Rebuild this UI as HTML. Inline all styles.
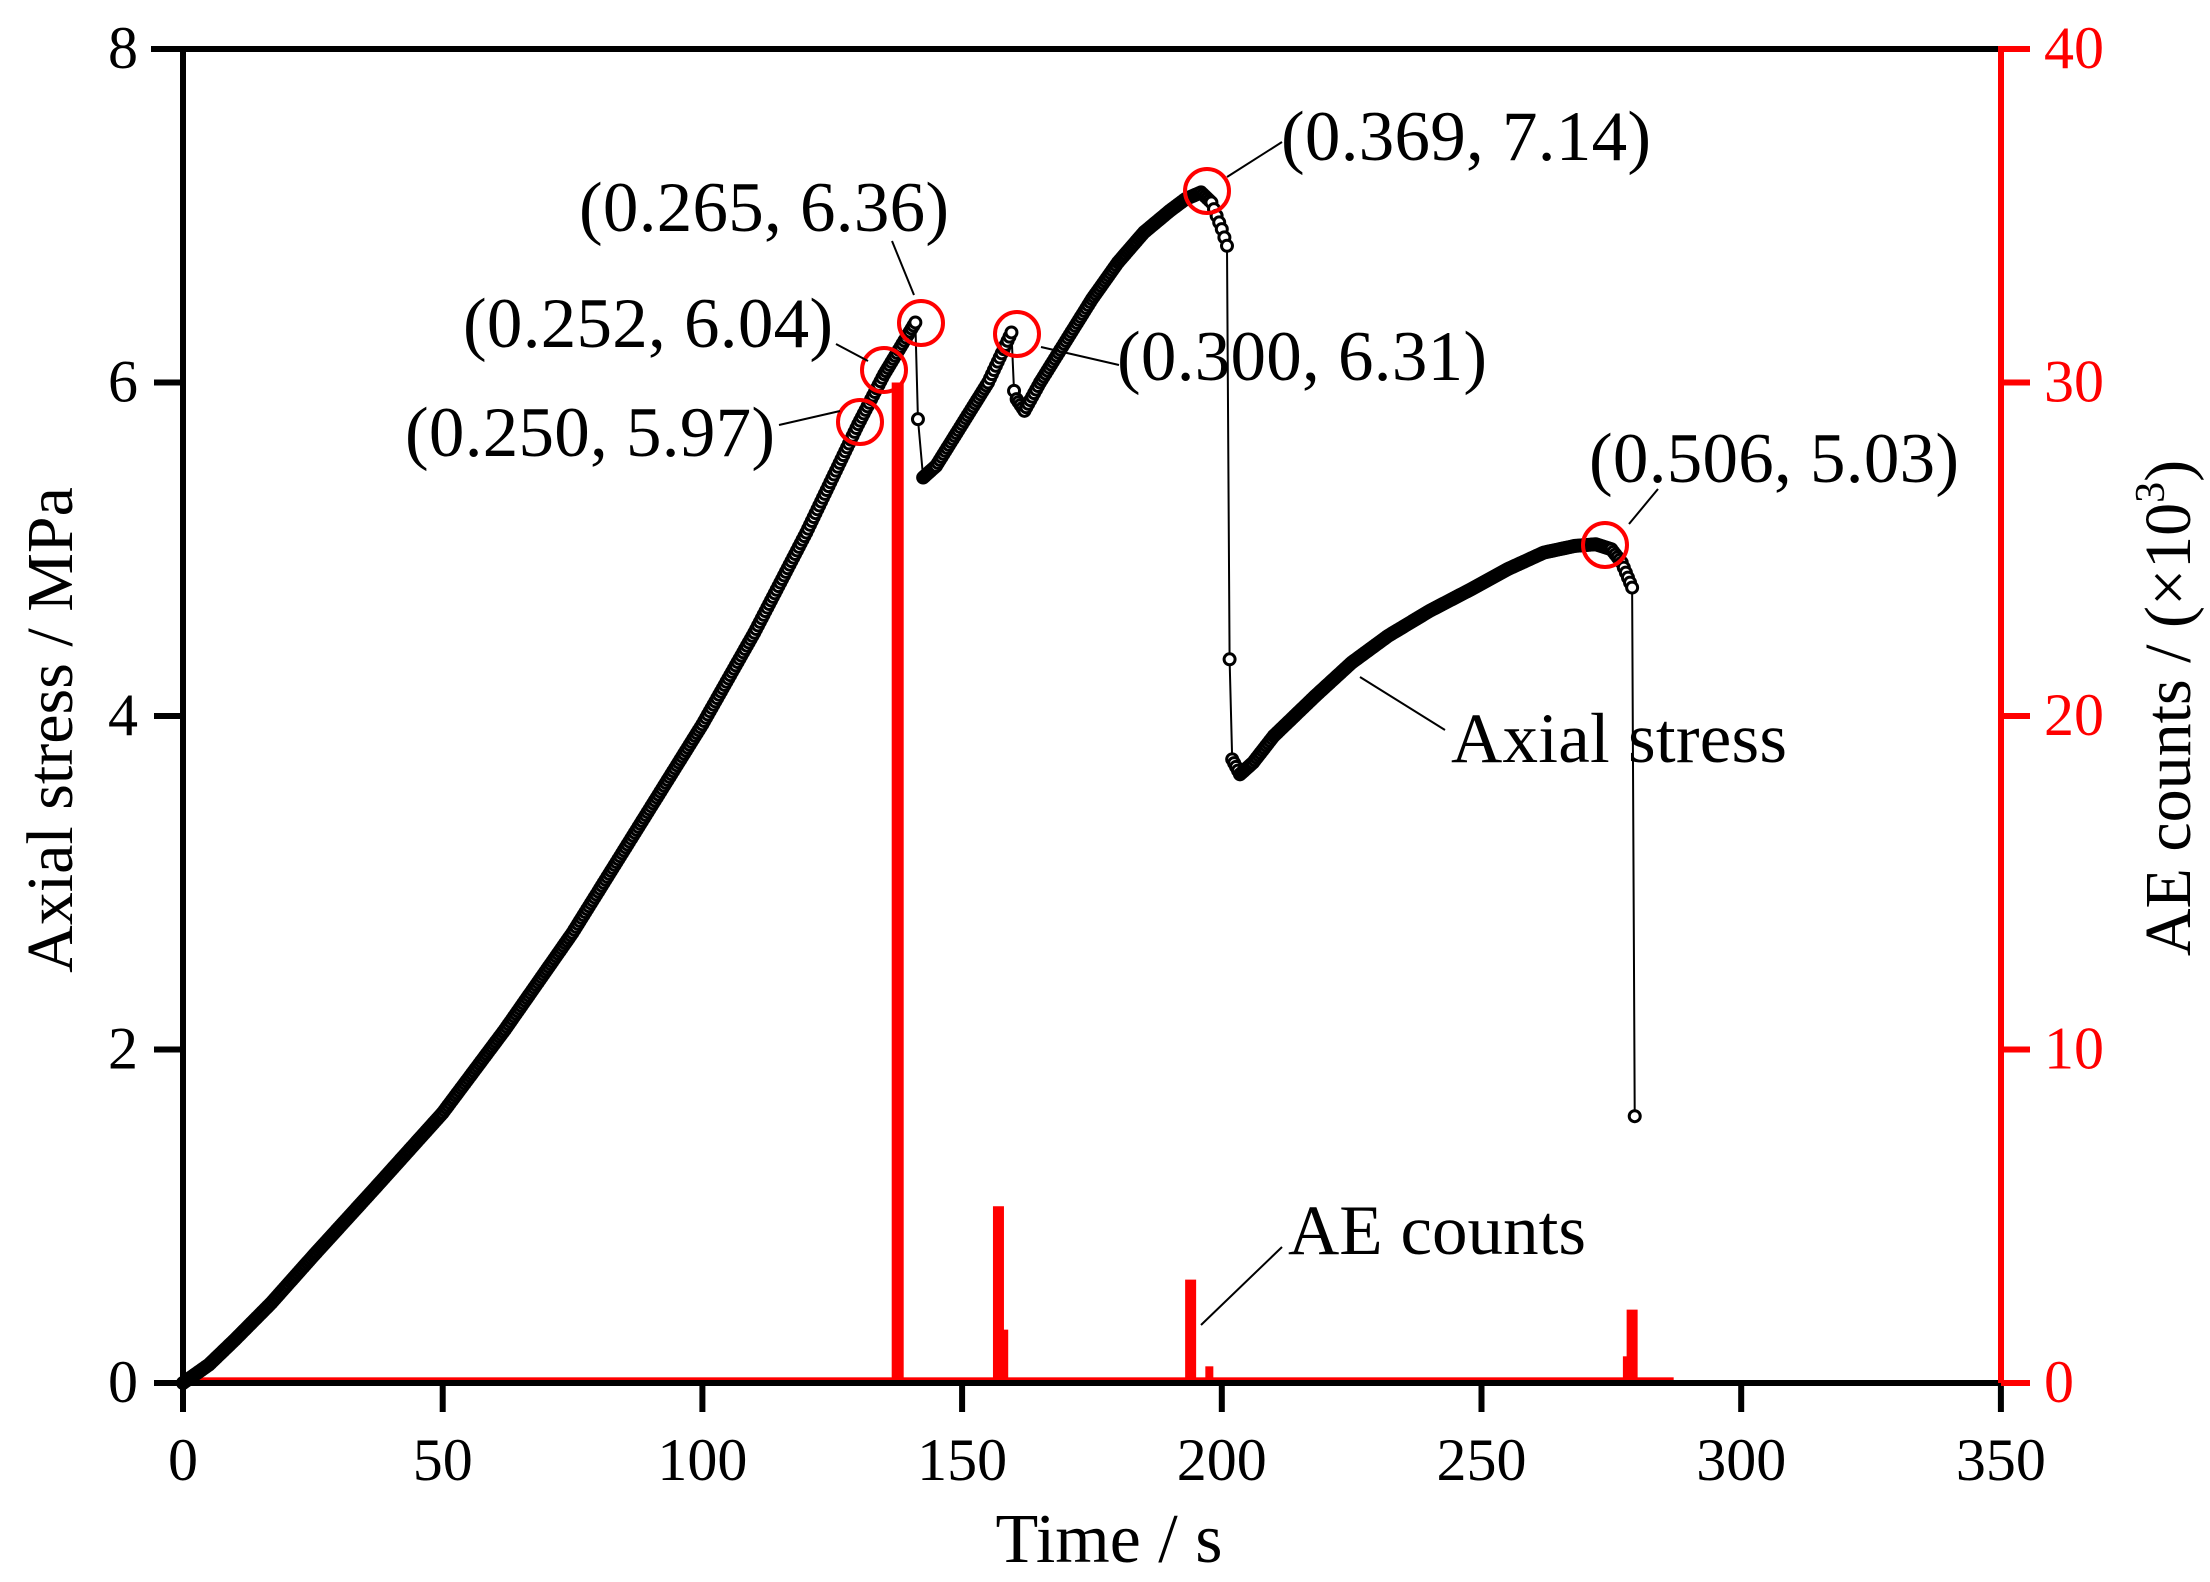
<!DOCTYPE html>
<html><head><meta charset="utf-8"><style>
html,body{margin:0;padding:0;background:#fff}
svg{display:block}
text{font-family:"Liberation Serif",serif}
</style></head><body>
<svg id="s" width="2210" height="1582" viewBox="0 0 2210 1582" xmlns="http://www.w3.org/2000/svg">
<g id="ae" fill="red"></g>
<g id="stress"></g>
<g fill="none" stroke="red" stroke-width="4">
<circle cx="860" cy="422" r="22"/><circle cx="884" cy="370" r="22"/><circle cx="921" cy="323" r="22"/>
<circle cx="1017" cy="334" r="22"/><circle cx="1207" cy="191" r="22"/><circle cx="1605" cy="545" r="22"/>
</g>
<g stroke="#000" stroke-width="2" fill="none">
<line x1="779" y1="425" x2="840" y2="411"/>
<line x1="836" y1="344" x2="868" y2="361"/>
<line x1="892" y1="241" x2="914" y2="295"/>
<line x1="1041" y1="347" x2="1119" y2="365"/>
<line x1="1227" y1="177" x2="1282" y2="142"/>
<line x1="1629" y1="524" x2="1658" y2="489"/>
<line x1="1360" y1="677" x2="1445" y2="730"/>
<line x1="1201" y1="1325" x2="1282" y2="1247"/>
</g>
<g font-size="71" fill="#000">
<text x="405" y="456" textLength="370">(0.250, 5.97)</text>
<text x="463" y="347" textLength="370">(0.252, 6.04)</text>
<text x="579" y="231" textLength="370">(0.265, 6.36)</text>
<text x="1117" y="380" textLength="370">(0.300, 6.31)</text>
<text x="1281" y="160" textLength="370">(0.369, 7.14)</text>
<text x="1589" y="482" textLength="370">(0.506, 5.03)</text>
<text x="1451" y="762" textLength="336">Axial stress</text>
<text x="1288" y="1254" textLength="298">AE counts</text>
</g>
<!-- axes -->
<g stroke="#000" stroke-width="6" stroke-linecap="square">
<line x1="154" y1="49" x2="2001" y2="49"/>
<line x1="183" y1="49" x2="183" y2="1383"/>
<line x1="183" y1="1383" x2="2001" y2="1383"/>
</g>
<g id="ticks"></g>
<g stroke="red" stroke-width="6"><line x1="2001" y1="46" x2="2001" y2="1383"/></g>
<text x="1109" y="1562" font-size="70" text-anchor="middle">Time / s</text>
<text transform="translate(72,730) rotate(-90)" font-size="66" text-anchor="middle">Axial stress / MPa</text>
<text transform="translate(2190,708) rotate(-90)" font-size="66" text-anchor="middle">AE counts / (×10<tspan font-size="42" dy="-26">3</tspan><tspan dy="26">)</tspan></text>
</svg>
<script>
var NS="http://www.w3.org/2000/svg",S=document.getElementById('s');
function X(t){return 183+t*5.194}function Y(s){return 1383-s*166.75}function YR(v){return 1383-v*33.35}
function el(p,tag,a){var e=document.createElementNS(NS,tag);for(var k in a)e.setAttribute(k,a[k]);p.appendChild(e);return e}
var T=document.getElementById('ticks');
for(var i=0;i<=7;i++){var t=i*50,x=X(t);el(T,'line',{x1:x,y1:1383,x2:x,y2:1412,stroke:'#000','stroke-width':6});
var tx=el(T,'text',{x:x,y:1480,'font-size':60,'text-anchor':'middle'});tx.textContent=t;}
for(var i=0;i<=4;i++){var y=Y(i*2);el(T,'line',{x1:154,y1:y,x2:183,y2:y,stroke:'#000','stroke-width':6});
var tx=el(T,'text',{x:138,y:y+19,'font-size':60,'text-anchor':'end'});tx.textContent=i*2;
el(T,'line',{x1:2001,y1:y,x2:2030,y2:y,stroke:'red','stroke-width':6});
var r=el(T,'text',{x:2044,y:y+19,'font-size':60,fill:'red'});r.textContent=i*10;}
// AE
var A=document.getElementById('ae');
el(A,'rect',{x:X(0),y:YR(0.08)-3,width:X(287)-X(0),height:6});
[[137.6,30,12],[157,5.3,11],[158.3,1.6,6],[194,3.1,11],[197.6,0.5,8],[277.8,0.8,6],[279,2.2,11]].forEach(function(d){
var x=X(d[0]);el(A,'rect',{x:x-d[2]/2,y:YR(d[1]),width:d[2],height:YR(0)-YR(d[1])});});
// stress
var P=[[0,0],[5,0.11],[10,0.26],[17,0.48],[25,0.76],[37,1.17],[50,1.62],[62,2.12],[75,2.7],[87,3.3],[100,3.95],[110,4.5],[120,5.1],[130,5.75],[135,6.05],[141,6.36],
[141.5,5.78],[142.5,5.43],[145,5.5],[150,5.75],[155,6.0],[159.5,6.3],[160,5.95],[160.5,5.9],[162,5.83],[165,6.0],[170,6.25],[175,6.5],[180,6.72],[185,6.9],[190,7.03],[193,7.1],[196,7.14],[198,7.08],[199,7.0],[200,6.92],[201,6.82],[201.5,4.34],[202,3.74],[203.5,3.65],[206,3.72],[210,3.88],[218,4.12],[225,4.32],[232,4.48],[240,4.63],[248,4.76],[255,4.88],[262,4.98],[268,5.02],[272,5.03],[275,5.0],[277,4.92],[279,4.77],[279.5,1.6]];
var G=document.getElementById('stress');
el(G,'polyline',{points:P.map(function(p){return X(p[0])+','+Y(p[1])}).join(' '),fill:'none',stroke:'#000','stroke-width':2});
function c(x,y){el(G,'circle',{cx:x,cy:y,r:5.5,fill:'#fff',stroke:'#000','stroke-width':3});}
for(var i=0;i<P.length;i++){c(X(P[i][0]),Y(P[i][1]));
if(i<P.length-1){var a=P[i],b=P[i+1];if(Math.abs(b[1]-a[1])/(b[0]-a[0])>0.3&&b[1]<a[1]&&(b[0]-a[0])<=1)continue;
var n=Math.floor((b[0]-a[0])/0.35);for(var j=1;j<n;j++){var f=j/n;c(X(a[0]+f*(b[0]-a[0])),Y(a[1]+f*(b[1]-a[1])));}}}
</script>
</body></html>
